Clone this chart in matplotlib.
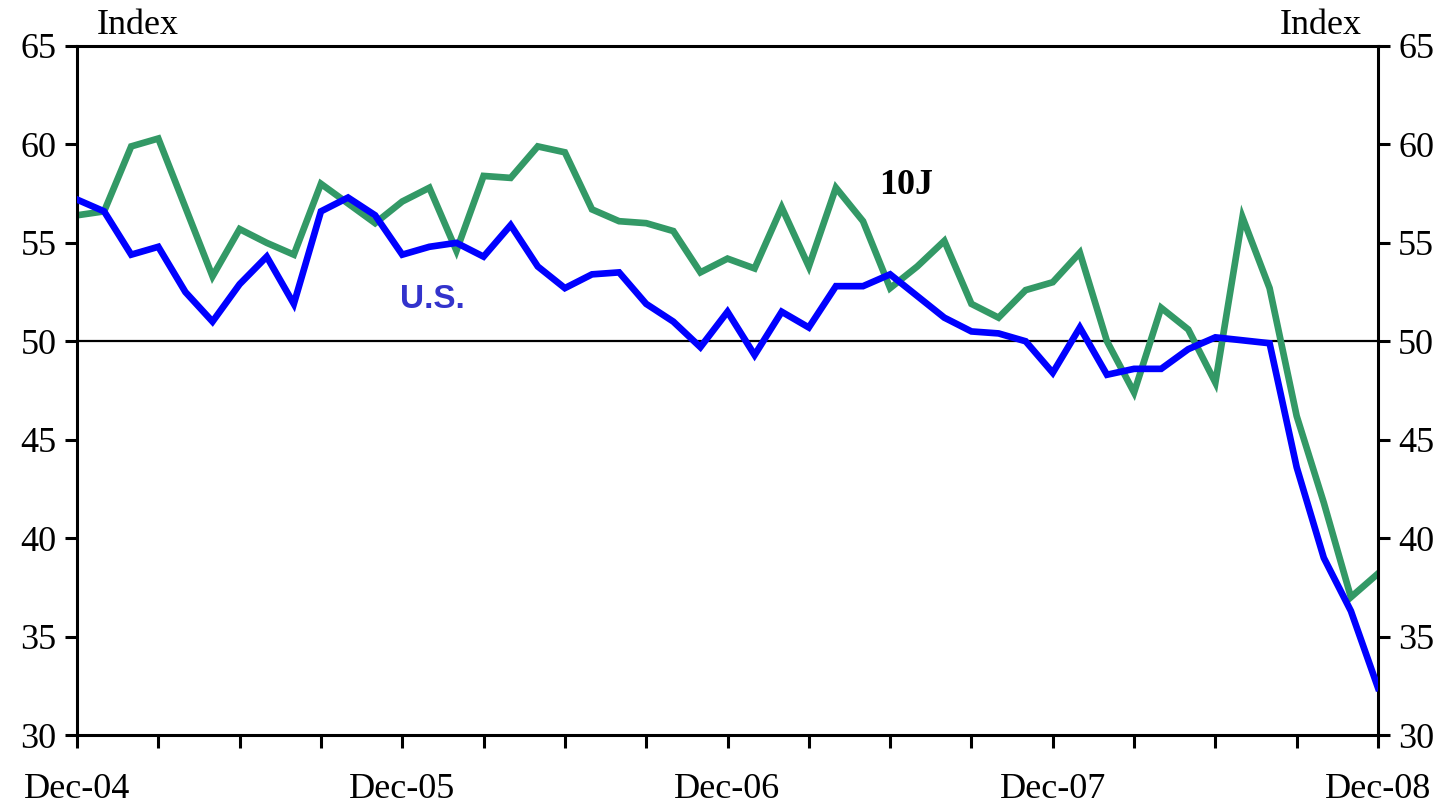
import matplotlib
matplotlib.use("Agg")
import matplotlib.pyplot as plt
import numpy as np

months = list(range(49))  # Dec-04 .. Dec-08
tick_labels = ["Dec-04", "", "", "", "Dec-05", "", "", "", "Dec-06", "", "", "", "Dec-07", "", "", "", "Dec-08"]

us = [57.2, 56.6, 54.4, 54.8, 52.5, 51.0, 52.9, 54.3, 51.9, 56.6,
      57.3, 56.4, 54.4, 54.8, 55.0, 54.3, 55.9, 53.8, 52.7, 53.4,
      53.5, 51.9, 51.0, 49.7, 51.5, 49.3, 51.5, 50.7, 52.8, 52.8,
      53.4, 52.3, 51.2, 50.5, 50.4, 50.0, 48.4, 50.7, 48.3, 48.6,
      48.6, 49.6, 50.2, 50.05, 49.9, 43.6, 39.0, 36.3, 32.4]

j10 = [56.4, 56.6, 59.9, 60.3, 56.8, 53.3, 55.7, 55.0, 54.4, 58.0,
       57.0, 56.0, 57.1, 57.8, 54.6, 58.4, 58.3, 59.9, 59.6, 56.7,
       56.1, 56.0, 55.6, 53.5, 54.2, 53.7, 56.8, 53.8, 57.8, 56.1,
       52.7, 53.8, 55.1, 51.9, 51.2, 52.6, 53.0, 54.5, 50.0, 47.4,
       51.7, 50.6, 47.9, 56.3, 52.7, 46.2, 41.8, 37.0, 38.2]

serif = ["Liberation Serif", "DejaVu Serif"]
sans = ["Liberation Sans", "DejaVu Sans"]

fig = plt.figure(figsize=(14.48, 8.06), dpi=100)
ax = fig.add_axes([77/1448, 1-735/806, (1378-77)/1448, (735-46)/806])

ax.axhline(50, color="black", lw=1.6, zorder=1)
ax.plot(months, j10, color="#339966", lw=4.8, solid_joinstyle="miter", zorder=2)
ax.plot(months, us, color="#0000FF", lw=4.8, solid_joinstyle="miter", zorder=3)

ax.set_xlim(0, 48)
ax.set_ylim(30, 65)
ax.set_yticks(np.arange(30, 66, 5))
ax.set_xticks(np.arange(0, 49, 3))
ax.set_xticklabels(tick_labels, fontfamily=serif, fontsize=26)
ax.set_yticklabels([str(v) for v in range(30, 66, 5)], fontfamily=serif, fontsize=26)
ax.tick_params(axis="x", direction="out", length=9, width=2.2, pad=18)
ax.tick_params(axis="y", direction="out", length=8.6, width=2.2, pad=6, right=True, labelright=True)

for s in ax.spines.values():
    s.set_linewidth(2.2)

fig.text(97/1448, 1-25/806, "Index", fontfamily=serif, fontsize=26, ha="left", va="center")
fig.text(1362/1448, 1-25/806, "Index", fontfamily=serif, fontsize=26, ha="right", va="center")

ax.text(11.9, 52.1, "U.S.", fontfamily=sans, fontsize=24, fontweight="bold", color="#3333CC", ha="left", va="center")
ax.text(29.6, 57.9, "10J", fontfamily=serif, fontsize=26, fontweight="bold", color="black", ha="left", va="center")

fig.savefig("out.png", dpi=100, facecolor="white")
